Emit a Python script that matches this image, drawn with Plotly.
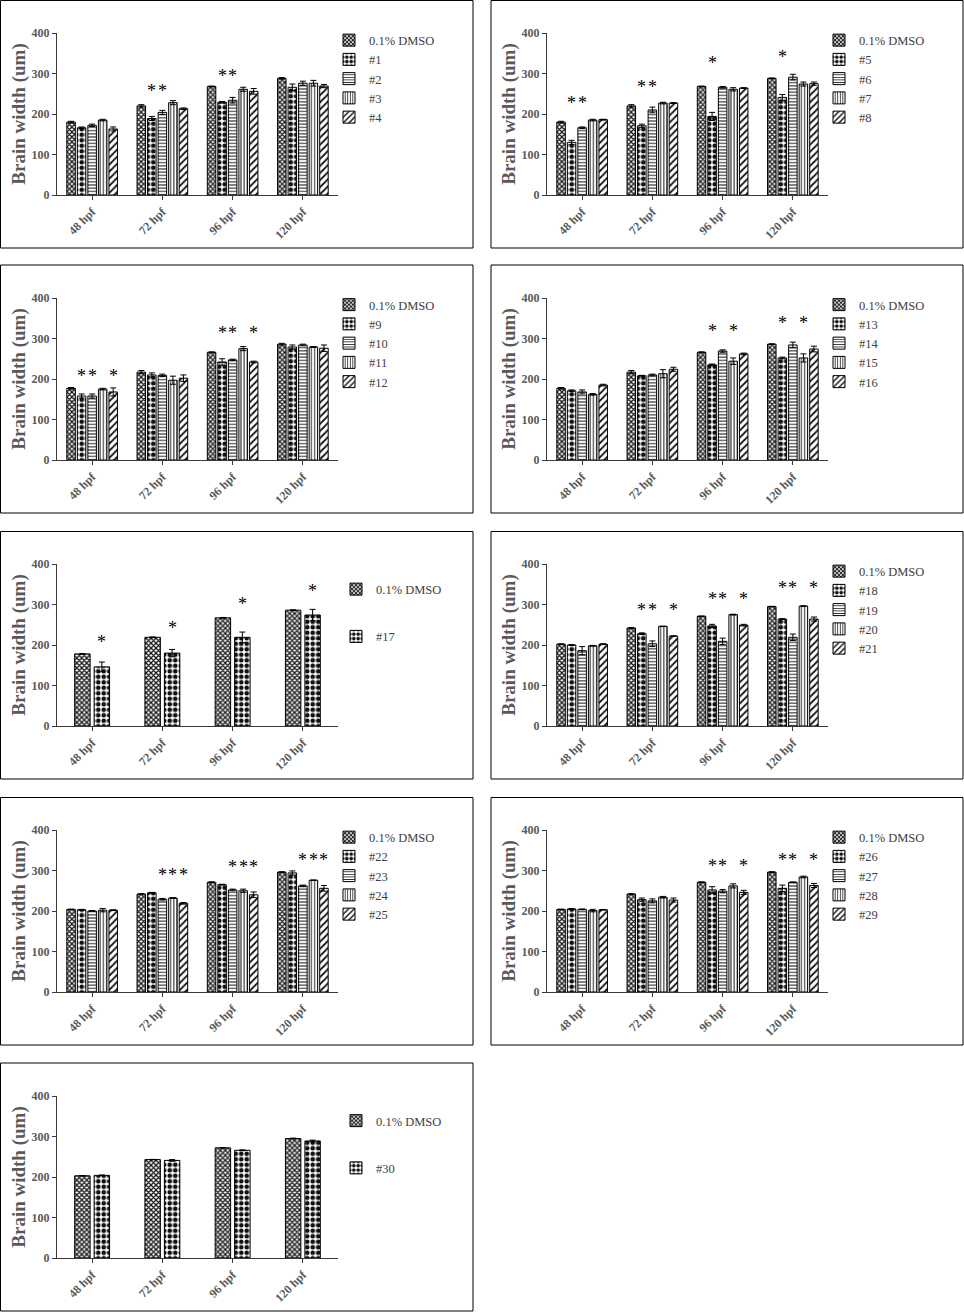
import plotly.graph_objects as go

categories = ["48 hpf", "72 hpf", "96 hpf", "120 hpf"]

# ---- panel 1 ----
p1_names = ["0.1% DMSO", "#1", "#2", "#3", "#4"]
p1_means = [[180, 220, 268, 288], [166, 189, 229, 266], [172, 204, 234, 276], [185, 228, 261, 276], [163, 213, 256, 269]]
p1_errs = [[2, 3, 1, 2], [2, 5, 2, 8], [3, 5, 7, 5], [2, 5, 5, 7], [5, 2, 7, 4]]
p1_stars = [[1, 1, 264], [2, 1, 264], [1, 2, 301], [2, 2, 301]]

# ---- panel 2 ----
p2_names = ["0.1% DMSO", "#5", "#6", "#7", "#8"]
p2_means = [[180, 220, 268, 288], [130, 171, 194, 241], [166, 210, 266, 291], [185, 227, 261, 274], [186, 227, 264, 275]]
p2_errs = [[2, 3, 1, 1], [5, 4, 10, 7], [2, 7, 2, 7], [2, 2, 4, 5], [1, 1, 1, 4]]
p2_stars = [[1, 0, 235], [2, 0, 235], [1, 1, 275], [2, 1, 275], [1, 2, 334], [1, 3, 348]]

# ---- panel 3 ----
p3_names = ["0.1% DMSO", "#9", "#10", "#11", "#12"]
p3_means = [[177, 217, 266, 286], [158, 210, 242, 279], [158, 209, 247, 284], [175, 197, 275, 279], [168, 202, 242, 276]]
p3_errs = [[2, 4, 1, 2], [5, 5, 8, 5], [5, 3, 2, 2], [2, 10, 5, 1], [10, 8, 2, 8]]
p3_stars = [[1, 0, 216], [2, 0, 216], [4, 0, 216], [1, 2, 320], [2, 2, 320], [4, 2, 320]]

# ---- panel 4 ----
p4_names = ["0.1% DMSO", "#13", "#14", "#15", "#16"]
p4_means = [[177, 217, 266, 286], [171, 208, 235, 252], [168, 210, 269, 284], [162, 213, 244, 252], [185, 224, 262, 274]]
p4_errs = [[2, 4, 1, 1], [2, 1, 2, 2], [5, 2, 3, 7], [2, 10, 8, 10], [2, 5, 2, 7]]
p4_stars = [[1, 2, 326], [3, 2, 326], [1, 3, 345], [3, 3, 345]]

# ---- panel 5 ----
p5_names = ["0.1% DMSO", "#17"]
p5_means = [[178, 219, 267, 286], [146, 180, 219, 274]]
p5_errs = [[1, 1, 1, 1], [12, 9, 13, 14]]
p5_stars = [[1, 0, 216], [1, 1, 249], [1, 2, 309], [1, 3, 341]]

# ---- panel 6 ----
p6_names = ["0.1% DMSO", "#18", "#19", "#20", "#21"]
p6_means = [[202, 242, 271, 295], [200, 228, 247, 264], [186, 203, 209, 219], [198, 246, 275, 296], [202, 222, 249, 264]]
p6_errs = [[1, 1, 0.5, 0.5], [1, 2, 4, 1], [10, 7, 8, 8], [1, 0.5, 1, 1], [1, 0.5, 2, 5]]
p6_stars = [[1, 1, 294], [2, 1, 294], [4, 1, 294], [1, 2, 320], [2, 2, 320], [4, 2, 320],
            [1, 3, 347], [2, 3, 347], [4, 3, 347]]

# ---- panel 7 ----
p7_names = ["0.1% DMSO", "#22", "#23", "#24", "#25"]
p7_means = [[204, 242, 271, 296], [203, 245, 265, 294], [200, 229, 252, 262], [202, 232, 250, 276], [202, 219, 240, 256]]
p7_errs = [[0.5, 0.5, 1, 1], [1, 1, 1, 5], [1, 2, 2, 2], [4, 1, 4, 0.5], [1, 2, 7, 7]]
p7_stars = [[2, 1, 296], [3, 1, 296], [4, 1, 296], [2, 2, 316], [3, 2, 316], [4, 2, 316],
            [2, 3, 334], [3, 3, 334], [4, 3, 334]]

# ---- panel 8 ----
p8_names = ["0.1% DMSO", "#26", "#27", "#28", "#29"]
p8_means = [[204, 242, 271, 296], [205, 228, 252, 256], [204, 225, 249, 271], [201, 234, 262, 284], [203, 227, 246, 263]]
p8_errs = [[0.5, 0.5, 1, 1], [1, 4, 8, 8], [1, 5, 4, 0.5], [3, 2, 5, 2], [0.5, 5, 5, 5]]
p8_stars = [[1, 2, 318], [2, 2, 318], [4, 2, 318], [1, 3, 334], [2, 3, 334], [4, 3, 334]]

# ---- panel 9 ----
p9_names = ["0.1% DMSO", "#30"]
p9_means = [[203, 243, 272, 295], [204, 241, 266, 289]]
p9_errs = [[0.5, 0.5, 0.5, 1], [1, 2, 1, 2]]
p9_stars = []

panels = [
    (p1_names, p1_means, p1_errs, p1_stars),
    (p2_names, p2_means, p2_errs, p2_stars),
    (p3_names, p3_means, p3_errs, p3_stars),
    (p4_names, p4_means, p4_errs, p4_stars),
    (p5_names, p5_means, p5_errs, p5_stars),
    (p6_names, p6_means, p6_errs, p6_stars),
    (p7_names, p7_means, p7_errs, p7_stars),
    (p8_names, p8_means, p8_errs, p8_stars),
    (p9_names, p9_means, p9_errs, p9_stars),
]

# ---------------- layout geometry (pixels) ----------------
W, H = 964, 1312
col_plot_x = [(57, 338), (547, 828)]
col_box_x = [(0.5, 473), (491, 963)]
row_plot_y = [(33, 195), (298, 460), (564, 726), (830, 992), (1096, 1258)]
row_box_y = [(0.5, 248), (265, 513), (531.5, 779), (797.5, 1045), (1063, 1311)]
legend_text_x = [369, 859]

patterns = [
    dict(shape="x", size=3.5, solidity=0.6, fgcolor="#1a1a1a"),
    dict(shape=".", size=5.5, solidity=0.55, fgcolor="#111111"),
    dict(shape="-", size=3.2, solidity=0.3, fgcolor="#111111"),
    dict(shape="|", size=3.2, solidity=0.3, fgcolor="#111111"),
    dict(shape="/", size=5, solidity=0.35, fgcolor="#111111"),
]

SERIF = "Liberation Serif, Times New Roman, serif"
GRAY = "#595959"

fig = go.Figure()
layout = dict(width=W, height=H,
              margin=dict(l=0, r=0, t=0, b=0, pad=0, autoexpand=False),
              paper_bgcolor="white", plot_bgcolor="white", barmode="overlay",
              showlegend=True, template="none")
shapes = []
annotations = []

def px2x(p):
    return p / W

def px2y(p):
    return 1 - p / H

for k, (names, means, errs, stars) in enumerate(panels):
    idx = k + 1
    row, col = divmod(k, 2)
    suffix = "" if idx == 1 else str(idx)
    n = len(names)
    if n == 5:
        bw, slot = 0.121, 0.15
    else:
        bw, slot = 0.22, 0.277
    span = (n - 1) * slot + bw
    offsets = [-span / 2 + i * slot for i in range(n)]
    leg = "legend" + suffix
    for i in range(n):
        fig.add_trace(go.Bar(
            x=categories, y=means[i], name=names[i],
            width=bw, offset=offsets[i],
            error_y=dict(type="data", array=errs[i], color="#000000", thickness=1, width=3),
            marker=dict(color="white", line=dict(color="#000000", width=1),
                        pattern=dict(bgcolor="white", fillmode="replace", **patterns[i])),
            xaxis="x" + suffix, yaxis="y" + suffix, legend=leg,
            legendgroup=(f"g{idx}_{i}" if n == 2 else f"g{idx}"),
            hoverinfo="skip",
        ))
    for (si, ci, hy) in stars:
        annotations.append(dict(
            x=ci + offsets[si] + bw / 2, y=hy, xref="x" + suffix, yref="y" + suffix,
            text="*", showarrow=False, font=dict(family=SERIF, size=18, color="#000000"),
            xanchor="center", yanchor="middle", yshift=-3,
        ))
    x0, x1 = col_plot_x[col]
    y0, y1 = row_plot_y[row]
    layout["xaxis" + suffix] = dict(
        domain=[px2x(x0), px2x(x1)], anchor="y" + suffix, range=[-0.5, 3.5],
        type="category", showline=True, linecolor="#3a3a3a", linewidth=1,
        ticks="outside", ticklen=4, tickcolor="#3a3a3a", tickangle=-45,
        tickfont=dict(family=SERIF, size=12, color=GRAY, weight="bold"),
        showgrid=False, zeroline=False, fixedrange=True, automargin=False,
    )
    layout["yaxis" + suffix] = dict(
        domain=[px2y(y1), px2y(y0)], anchor="x" + suffix, range=[0, 400],
        dtick=100, showline=True, linecolor="#3a3a3a", linewidth=1,
        ticks="outside", ticklen=4, tickcolor="#3a3a3a",
        tickfont=dict(family=SERIF, size=12, color=GRAY, weight="bold"),
        title=dict(text="Brain width (um)", standoff=0,
                   font=dict(family=SERIF, size=19, color=GRAY, weight="bold")),
        showgrid=False, zeroline=False, fixedrange=True, automargin=False,
    )
    bx0, bx1 = col_box_x[col]
    by0, by1 = row_box_y[row]
    shapes.append(dict(type="rect", xref="paper", yref="paper",
                       x0=px2x(bx0), x1=px2x(bx1), y0=px2y(by1), y1=px2y(by0),
                       line=dict(color="#000000", width=1), fillcolor="rgba(0,0,0,0)"))
    if n == 5:
        leg_top = by0 + 25
        gap = 0
        tx = legend_text_x[col]
        order = "normal"
    else:
        leg_top = by0 + 43
        gap = 28
        tx = legend_text_x[col] + 7
        order = "grouped"
    layout[leg] = dict(
        x=px2x(tx - 40), y=px2y(leg_top), xanchor="left", yanchor="top",
        bgcolor="rgba(0,0,0,0)", borderwidth=0, tracegroupgap=gap,
        font=dict(family=SERIF, size=12.5, color="#404040"),
        itemclick=False, itemdoubleclick=False, traceorder=order,
    )

layout["shapes"] = shapes
layout["annotations"] = annotations
fig.update_layout(**layout)

css_js = ("var s=document.createElement('style');"
          "s.innerHTML='html,body{margin:0;padding:0;}';"
          "document.head.appendChild(s);")
fig.write_html("out.html", config={"displayModeBar": False}, post_script=css_js)
